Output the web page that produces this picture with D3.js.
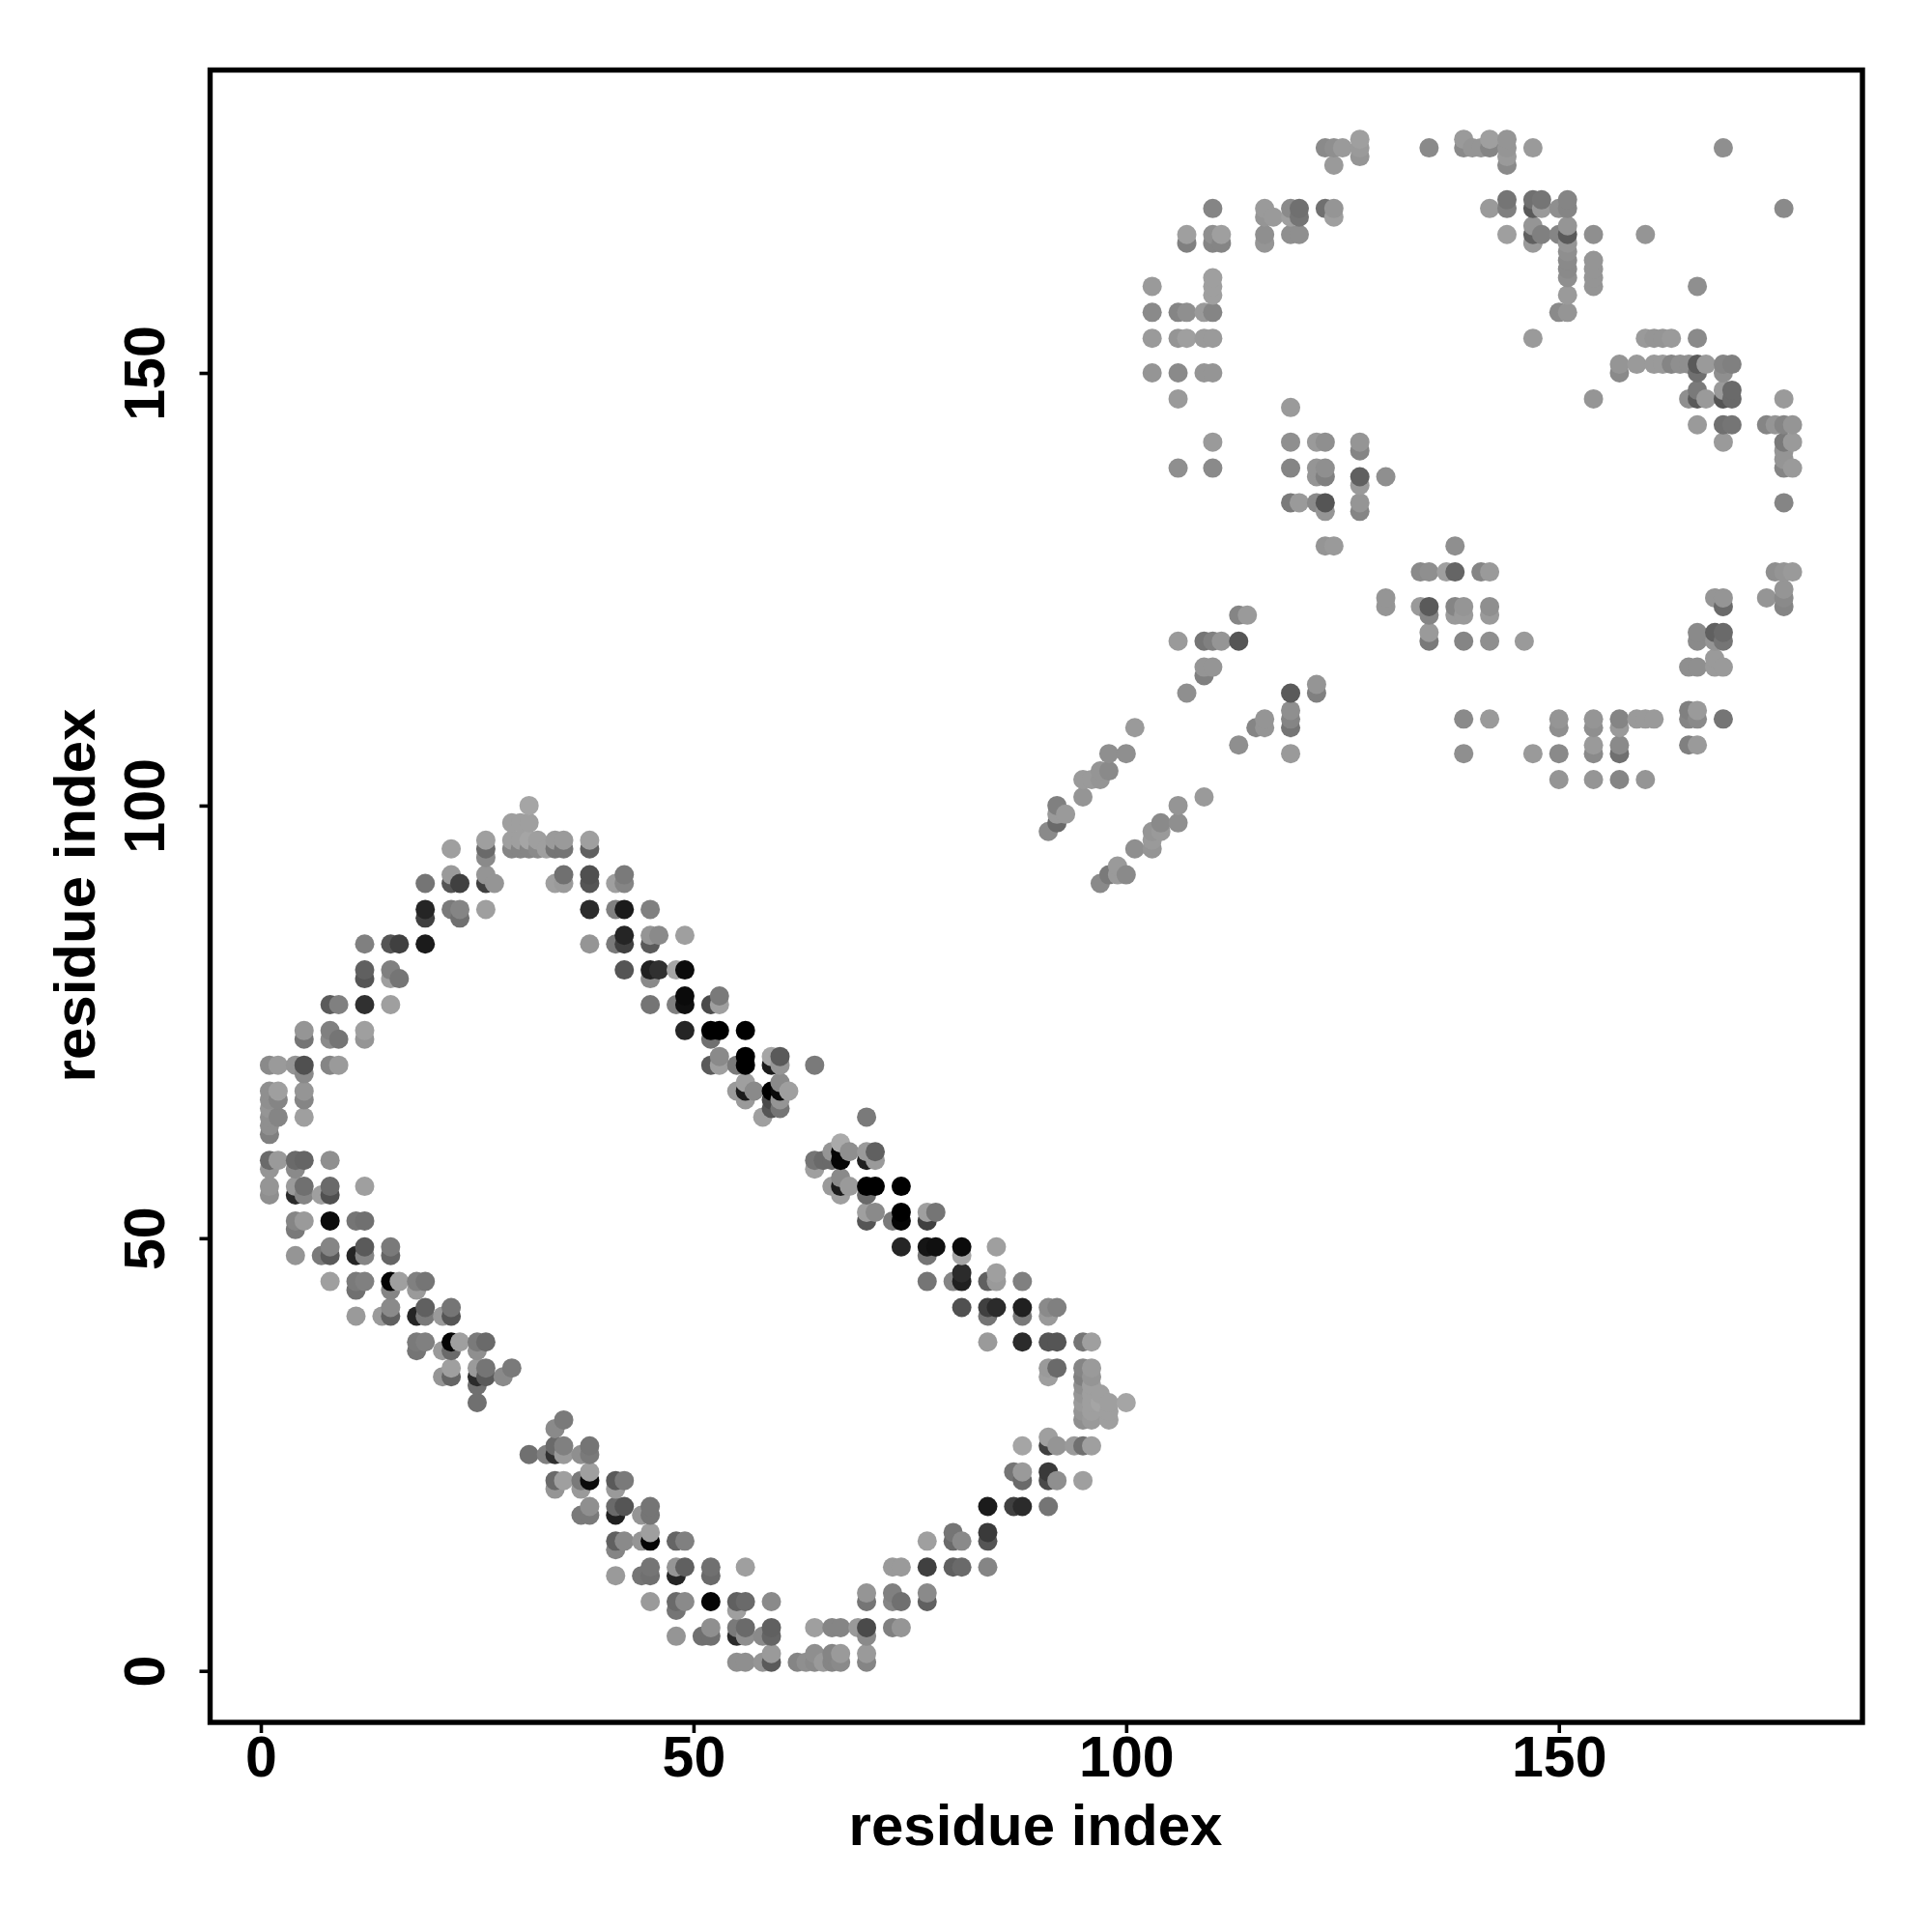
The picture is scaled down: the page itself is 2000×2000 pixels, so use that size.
<!DOCTYPE html>
<html>
<head>
<meta charset="utf-8">
<style>html,body{margin:0;padding:0;background:#fff}svg{display:block}</style>
<script src="https://cdn.jsdelivr.net/npm/d3@7/dist/d3.min.js"></script>
</head>
<body>
<div id="chart"></div>
<script>
// each row: residue y, then (residue x, grey level) pairs
const xTicks = [0, 50, 100, 150];
const yTicks = [0, 50, 100, 150];
const axisTitle = "residue index";

const lowerDomainTop = [
[100, 31,155],
[98, 29,150,30,150,31,150],
[96, 26,150,29,150,30,150,31,155,32,150,34,145,35,145,38,150],
[95, 22,150,26,100,29,125,30,125,31,125,32,130,33,150,34,110,35,110,38,90],
[94, 26,130],
[92, 22,145,26,140,35,105,38,75,42,115],
[91, 19,110,22,80,23,60,26,60,27,140,34,150,35,145,38,80,41,150,42,125],
[88, 19,35,22,115,23,125,26,150,38,40,41,120,42,25,45,120],
[87, 19,60,23,105],
[85, 42,35,45,140,46,130,49,150],
[84, 12,120,15,80,16,60,19,25,38,140,41,115,42,60,45,85],
[81, 12,90,15,120,42,80,45,30,46,45,48,155,49,10],
[80, 12,80,15,150,16,110,45,130],
[78, 49,10,53,115],
[77, 8,85,9,120,12,45,15,150,45,110,48,120,49,15,52,70,53,150],
[74, 5,140,8,120,12,150,49,35,52,0,53,0,56,0],
[73, 5,110,8,130,9,110,12,140,52,105],
[71, 53,130,56,0,59,155,60,85],
[70, 1,130,2,145,4,140,5,75,8,125,9,145,52,85,53,150,55,115,56,0,59,25,60,140,64,115],
[69, 5,130],
[68, 56,150,60,130],
[67, 1,135,2,150,5,140,55,145,56,25,57,130,59,0,60,10,61,150],
[66, 1,135,2,125,5,125,56,145,59,70,60,140],
[65, 1,140,59,80,60,110],
[64, 1,135,2,125,5,150,58,150,70,115],
[63, 1,135],
[62, 1,120]
];
const lowerDomainMiddle = [
[61, 67,160],
[60, 66,140,67,5,68,135,70,145,71,90],
[59, 1,100,2,145,4,100,5,95,8,135,64,110,65,100,66,100,67,5,70,30,71,145],
[58, 1,140,4,130,64,150],
[57, 67,130],
[56, 1,140,4,145,5,105,8,100,12,150,66,145,67,25,68,145,70,0,71,0,74,0],
[55, 1,135,4,40,5,125,7,150,8,75,67,150,70,100],
[53, 70,150,71,130,74,0,77,150,78,110],
[52, 4,125,5,145,8,10,11,110,12,105,70,80,73,115,74,5,77,60],
[51, 4,115],
[49, 8,125,12,85,15,115,74,35,77,20,78,15,81,10,85,150],
[48, 4,140,7,115,8,85,11,35,12,125,15,95,77,110,81,155],
[46, 81,40,85,150],
[45, 8,150,11,115,12,120,15,5,16,150,18,120,19,110,77,110,80,125,81,30,84,90,85,145,88,120],
[44, 11,105,15,125,18,145],
[42, 15,130,19,90,22,110,81,75,84,60,85,40,88,30,91,130,92,120],
[41, 11,145,14,145,15,90,18,35,19,115,21,145,22,80,84,110,88,115,91,145],
[38, 18,115,19,120,22,5,23,150,25,115,26,100,84,145,88,40,91,80,92,80,95,110,96,150],
[37, 18,110,21,145,22,100,25,135],
[35, 22,150,25,145,26,110,29,115,91,145,92,100,95,125,96,145],
[34, 21,140,22,95,25,40,26,85,28,130,91,150,95,120,96,140],
[33, 25,105,95,135,96,150],
[32, 95,140,96,150,97,150],
[31, 25,105,95,145,96,150,97,155,98,150,100,155],
[30, 95,140,96,150,98,150]
];
const lowerDomainBottom = [
[29, 35,115,95,135,96,145,98,150],
[28, 34,130],
[27, 91,150],
[26, 34,100,35,120,38,110,88,155,91,60,92,140,94,145,95,105,96,150],
[25, 31,105,33,120,34,45,35,145,37,135,38,115],
[23, 38,150,87,110,88,145,91,55],
[22, 34,100,35,150,37,115,38,10,41,85,42,115,88,100,91,70,92,135,95,150],
[21, 34,140,37,145,41,145],
[19, 38,135,41,100,42,80,45,110,84,25,87,60,88,40,91,110],
[18, 37,115,38,115,41,30,44,140,45,110],
[16, 45,150,80,110,84,55],
[15, 41,90,42,130,44,140,45,5,48,95,49,120,77,150,80,100,81,130,84,80],
[14, 41,125],
[12, 45,110,48,140,49,90,52,105,56,150,73,145,74,145,77,60,80,90,81,100,84,125],
[11, 41,145,44,110,45,105,48,35,52,100],
[9, 70,140,73,120,77,130],
[8, 45,145,48,100,49,130,52,5,55,90,56,100,59,130,70,110,73,125,74,105,77,90],
[7, 48,110,55,150],
[5, 52,135,55,115,56,100,59,90,64,150,66,125,67,125,69,145,70,70,73,120,74,140],
[4, 48,140,51,105,52,105,55,40,56,135,58,130,59,95,70,130],
[2, 59,145,64,135,66,125,67,145,70,145],
[1, 55,135,56,135,58,140,59,85,62,125,63,135,64,130,65,145,66,125,67,130,70,125]
];
const upperDomainTop = [
[177, 127,150,139,145,142,150,144,140],
[176, 123,130,124,135,125,145,127,145,135,130,139,130,140,140,141,140,142,125,144,140,147,145,169,135],
[175, 127,140,144,145],
[174, 124,145,144,130],
[170, 144,110,147,105,148,110,151,125],
[169, 110,125,116,145,119,130,120,105,123,105,124,140,142,145,144,120,147,85,148,145,150,135,151,125,176,130],
[168, 116,140,117,145,119,150,120,110,124,150],
[167, 147,140,151,140],
[166, 107,150,110,135,111,150,116,135,119,135,120,135,144,150,147,90,148,120,150,125,151,85,154,135,160,140],
[165, 107,120,110,125,111,125,116,140,147,145,151,140],
[164, 151,135],
[163, 151,130,154,140],
[162, 151,130,154,140],
[161, 110,150,151,135,154,140],
[160, 103,145,110,150,154,140,166,135],
[159, 110,150,151,145],
[157, 103,130,106,125,107,135,109,145,110,125,150,130,151,140],
[154, 103,145,106,140,107,150,109,145,110,145,147,145,160,145,161,140,162,140,163,145,166,130],
[151, 157,140,159,145,161,145,162,145,163,125,164,135,165,135,166,85,167,145,169,125,170,120],
[150, 103,140,106,130,109,140,110,140,157,130,166,105,169,135],
[148, 166,115,169,145,170,100],
[147, 106,145,154,140,165,135,166,85,167,145,169,80,170,100,176,145],
[146, 119,145]
];
const upperDomainMiddle = [
[144, 166,145,169,105,170,110,174,125,175,140,176,125,177,140],
[142, 110,145,119,135,122,145,123,135,127,140,169,145,176,115,177,145],
[141, 127,125,176,140],
[140, 176,140],
[139, 106,135,110,130,119,125,122,140,123,135,176,125,177,145],
[138, 122,140,123,120,127,90,130,135],
[137, 127,145],
[135, 119,115,120,145,122,130,123,80,127,140,176,125],
[134, 123,140,127,125],
[130, 123,140,124,145,138,135],
[127, 134,130,135,135,137,150,138,95,141,125,142,145,175,135,176,140,177,145],
[125, 176,140],
[124, 130,140,168,140,169,140,174,140,176,130],
[123, 130,140,134,145,135,85,138,125,139,140,142,135,169,100,176,125],
[122, 113,125,114,145,135,125,138,145,139,145,142,145],
[120, 135,145,166,130,168,90,169,100],
[119, 106,145,109,110,110,120,111,140,113,80,135,115,139,125,142,135,146,145,166,130,168,140,169,110],
[117, 168,145],
[116, 109,140,110,140,165,135,166,135,168,145,169,145],
[115, 109,120],
[114, 122,140],
[113, 107,135,119,85,122,120]
];
const upperDomainBottom = [
[111, 119,135,165,120,166,145],
[110, 116,140,119,125,139,130,142,145,150,140,154,140,157,125,159,145,160,145,161,145,165,125,166,130,169,110],
[109, 101,145,115,125,116,140,119,110,150,135,154,135,157,145],
[107, 113,135,154,145,157,130,165,120,166,145],
[106, 98,135,100,135,119,145,139,135,147,145,150,130,154,130,157,105],
[104, 97,140,98,130],
[103, 95,145,96,145,97,140,150,140,154,140,157,125,160,140],
[101, 95,140,109,145],
[100, 92,120,106,140],
[99, 92,145,93,145],
[98, 92,100,104,130,106,135],
[97, 91,130,103,140,104,145],
[96, 103,145],
[95, 101,135,103,140],
[93, 99,145],
[92, 98,115,99,145,100,130],
[91, 97,130]
];

const width = 2000, height = 2000;
const left = 217.5, right = 1928, top_ = 72.5, bottom = 1783;

const x = d3.scaleLinear().domain([-5.86, 185.08]).range([left, right]);
const y = d3.scaleLinear().domain([-5.95, 185]).range([bottom, top_]);
const shade = d3.scaleLinear().domain([0, 240]).range(["#000000", "#ffffff"]);

const rows = [...lowerDomainTop, ...lowerDomainMiddle, ...lowerDomainBottom,
              ...upperDomainTop, ...upperDomainMiddle, ...upperDomainBottom];
const points = [];
for (const r of rows) {
  for (let i = 1; i < r.length; i += 2) points.push({ i: r[i], j: r[0], g: r[i + 1] });
}
points.sort((a, b) => d3.ascending(a.i, b.i) || d3.ascending(a.j, b.j));

const FONT = "'Liberation Sans', Arial, sans-serif";
const svg = d3.select("#chart").append("svg").attr("width", width).attr("height", height);

svg.append("g").selectAll("circle").data(points).join("circle")
  .attr("cx", d => x(d.i)).attr("cy", d => y(d.j)).attr("r", 10)
  .attr("fill", d => shade(d.g));

const gx = svg.append("g").attr("transform", `translate(0,${bottom})`)
  .call(d3.axisBottom(x).tickValues(xTicks).tickSize(11).tickFormat(d3.format("d")));
const gy = svg.append("g").attr("transform", `translate(${left},0)`)
  .call(d3.axisLeft(y).tickValues(yTicks).tickSize(11).tickFormat(d3.format("d")));
[gx, gy].forEach(g => {
  g.select(".domain").remove();
  g.selectAll("line").attr("stroke", "#000").attr("stroke-width", 3.6);
  g.selectAll("text").attr("fill", "#000")
    .style("font-family", FONT).style("font-weight", "bold").style("font-size", "59px");
});
gx.selectAll("text").attr("dy", null).attr("y", 56);
gy.selectAll("text").attr("dy", null).attr("x", 0).attr("y", 0)
  .attr("text-anchor", "middle")
  .attr("transform", `translate(${170 - left},0) rotate(-90)`);

svg.append("rect").attr("x", left).attr("y", top_)
  .attr("width", right - left).attr("height", bottom - top_)
  .attr("fill", "none").attr("stroke", "#000").attr("stroke-width", 5.4);

svg.append("text").attr("x", 1072).attr("y", 1910).attr("text-anchor", "middle")
  .style("font-family", FONT).style("font-weight", "bold").style("font-size", "60px").text(axisTitle);
svg.append("text").attr("transform", "translate(98,927) rotate(-90)").attr("text-anchor", "middle")
  .style("font-family", FONT).style("font-weight", "bold").style("font-size", "60px").text(axisTitle);
</script>
</body>
</html>
